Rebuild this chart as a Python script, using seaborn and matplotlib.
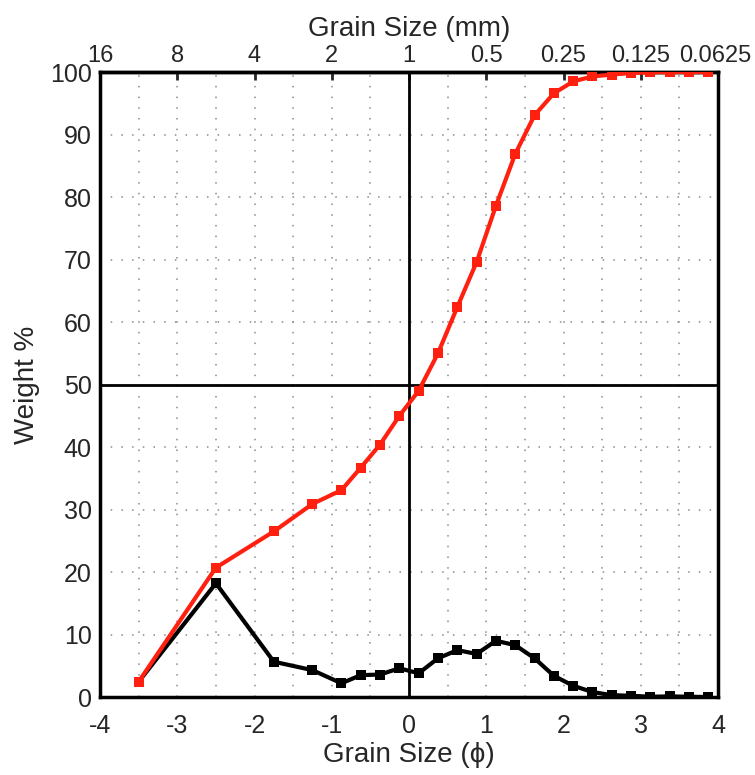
import matplotlib
matplotlib.use("Agg")
import matplotlib.pyplot as plt
import matplotlib.transforms as mtransforms
import seaborn as sns
import pandas as pd
import numpy as np

phi = [-3.5, -2.5, -1.75, -1.25, -0.875, -0.625, -0.375, -0.125, 0.125, 0.375,
       0.625, 0.875, 1.125, 1.375, 1.625, 1.875, 2.125, 2.375, 2.625, 2.875,
       3.125, 3.375, 3.625, 3.875]
weight_pct = [2.45, 18.2, 5.65, 4.3, 2.2, 3.5, 3.6, 4.6, 3.8, 6.2,
              7.5, 6.9, 9.0, 8.3, 6.2, 3.4, 1.8, 0.8, 0.3, 0.2,
              0.05, 0.1, 0.05, 0.0]
cumulative_pct = [2.45, 20.7, 26.5, 30.9, 33.1, 36.7, 40.4, 45.0, 49.0, 55.0,
                  62.4, 69.6, 78.6, 86.9, 93.1, 96.6, 98.5, 99.3, 99.6, 99.85,
                  99.95, 100.0, 100.0, 100.0]
mm_ticks = [-4, -3, -2, -1, 0, 1, 2, 3, 4]
mm_labels = ["16", "8", "4", "2", "1", "0.5", "0.25", "0.125", "0.0625"]

sns.set_style("white")
plt.rcParams['font.family'] = ['Liberation Sans', 'DejaVu Sans']

df = pd.DataFrame({
    "phi": phi * 2,
    "value": weight_pct + cumulative_pct,
    "series": ["weight"] * len(phi) + ["cumulative"] * len(phi),
})

fig = plt.figure(figsize=(7.55, 7.75), dpi=100)
ax = fig.add_axes([0.1325, 0.1006, 0.8185, 0.8064])

# dotted grid
for xv in np.arange(-3.5, 4.0, 0.5):
    ax.axvline(xv, color="#8a8a8a", lw=1.1, ls=(0, (1, 6)), zorder=0)
for yv in range(10, 100, 10):
    ax.axhline(yv, color="#8a8a8a", lw=1.1, ls=(0, (1, 6)), zorder=0)

ax.axvline(0, color="black", lw=2.0, zorder=1)
ax.axhline(50, color="black", lw=2.0, zorder=1)

sns.lineplot(data=df, x="phi", y="value", hue="series",
             palette={"weight": "black", "cumulative": "#ff2010"},
             marker="s", markersize=7, markeredgewidth=0, lw=3,
             legend=False, ax=ax, zorder=3)

ax.set_xlim(-4, 4)
ax.set_ylim(0, 100)
xt = np.arange(-4, 4.01, 0.5)
ax.set_xticks(xt)
ax.set_xticklabels([("%d" % v) if float(v).is_integer() else "" for v in xt])
ax.set_yticks(range(0, 101, 10))
ax.tick_params(axis="both", direction="in", length=6, width=2, labelsize=18)
ax.tick_params(axis="x", pad=12)
ax.tick_params(axis="y", pad=6)
ax.set_xlabel("Grain Size (\u03d5)", fontsize=20, labelpad=3)
ax.set_ylabel("Weight %", fontsize=20, labelpad=7)
for s in ax.spines.values():
    s.set_linewidth(2.5)
    s.set_color("black")

top = ax.secondary_xaxis("top")
top.set_xticks(mm_ticks)
top.set_xticklabels(mm_labels)
top.tick_params(direction="in", length=6, width=2, labelsize=17, pad=4)
top.set_xlabel("Grain Size (mm)", fontsize=20, labelpad=6)
top.spines["top"].set_linewidth(2.5)

# nudge the last top label so it fits inside the figure
last = top.xaxis.get_ticklabels()[-1]
offset = mtransforms.ScaledTranslation(-2 / 72, 0, fig.dpi_scale_trans)
last.set_transform(last.get_transform() + offset)

fig.savefig("out.png", dpi=100)
